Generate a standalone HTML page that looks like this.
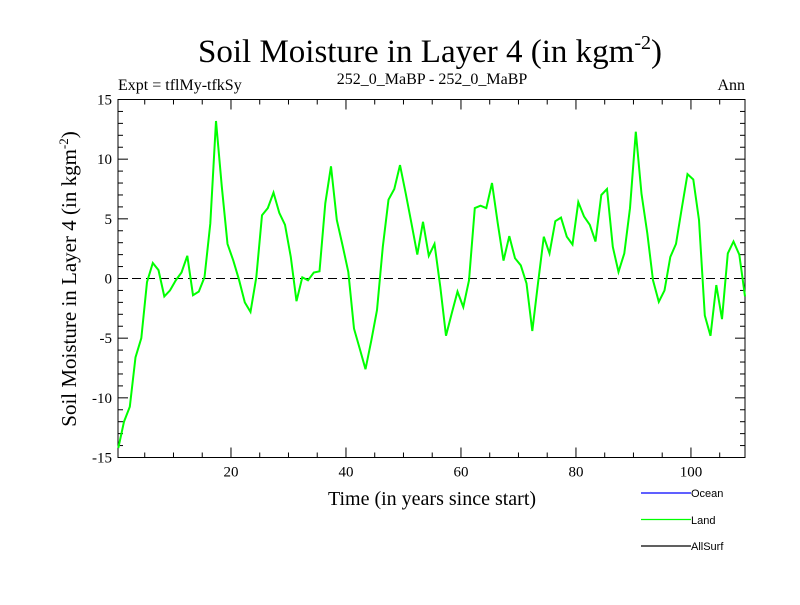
<!DOCTYPE html>
<html><head><meta charset="utf-8"><style>
body{margin:0;background:#fff}
svg text{font-family:"Liberation Serif",serif}
</style></head><body>
<svg id="chart" width="800" height="600" xmlns="http://www.w3.org/2000/svg">
<text x="430" y="62" font-size="33" text-anchor="middle">Soil Moisture in Layer 4 (in kgm<tspan dy="-13" font-size="20">-2</tspan><tspan dy="13">)</tspan></text>
<text x="118" y="90" font-size="16">Expt = tflMy-tfkSy</text>
<text x="432" y="84" font-size="16" text-anchor="middle">252_0_MaBP - 252_0_MaBP</text>
<text x="745" y="90" font-size="16" text-anchor="end">Ann</text>
<text transform="translate(76,279) rotate(-90)" font-size="21" text-anchor="middle">Soil Moisture in Layer 4 (in kgm<tspan dy="-8" font-size="13">-2</tspan><tspan dy="8">)</tspan></text>
<text x="432" y="505" font-size="20" text-anchor="middle">Time (in years since start)</text>
<g id="axes"></g>
<g id="series"></g>
<g font-family="Liberation Sans, sans-serif" font-size="11">
<line x1="641" y1="493" x2="691" y2="493" stroke="#0000ff" stroke-width="1.2"/>
<text x="691" y="497" style="font-family:'Liberation Sans',sans-serif">Ocean</text>
<line x1="641" y1="519.5" x2="691" y2="519.5" stroke="#00ff00" stroke-width="1.2"/>
<text x="691" y="524" style="font-family:'Liberation Sans',sans-serif">Land</text>
<line x1="641" y1="546" x2="691" y2="546" stroke="#000" stroke-width="1.2"/>
<text x="691" y="550" style="font-family:'Liberation Sans',sans-serif">AllSurf</text>
</g>
</svg>
<script>
const landValues=[-14.2,-12,-10.75,-6.6,-5,-0.3,1.3,0.7,-1.5,-1,-0.15,0.5,1.9,-1.4,-1.1,0.1,4.6,13.2,7.7,2.9,1.5,-0.1,-2,-2.8,0.1,5.3,5.9,7.2,5.5,4.5,1.8,-1.9,0.1,-0.15,0.5,0.6,6.3,9.4,4.9,2.8,0.55,-4.2,-5.9,-7.6,-5.2,-2.65,2.65,6.6,7.5,9.5,7.1,4.6,2,4.75,1.9,2.9,-0.7,-4.8,-2.9,-1.1,-2.4,-0.15,5.9,6.1,5.9,8,4.6,1.5,3.55,1.7,1.1,-0.4,-4.4,-0.4,3.5,2.1,4.8,5.1,3.5,2.85,6.4,5.2,4.5,3.1,7,7.5,2.65,0.55,2.1,5.9,12.3,7.1,3.8,-0.15,-1.95,-1,1.8,2.9,5.9,8.75,8.3,4.9,-3.1,-4.8,-0.55,-3.4,2.1,3.1,2,-1.5];
const xTicks=[20,40,60,80,100];
const yTicks=[-15,-10,-5,0,5,10,15];
const NS='http://www.w3.org/2000/svg';
const L=118,R=745,T=99.5,B=457.5,xMin=0.35,xMax=109.4,yMin=-15,yMax=15;
const xs=v=>L+(v-xMin)/(xMax-xMin)*(R-L);
const ys=v=>B-(v-yMin)/(yMax-yMin)*(B-T);
function mk(tag,attrs,parent){const e=document.createElementNS(NS,tag);for(const k in attrs)e.setAttribute(k,attrs[k]);parent.appendChild(e);return e;}
const ax=document.getElementById('axes');
const frame=mk('rect',{x:L,y:T,width:R-L,height:B-T,fill:'none',stroke:'#000','stroke-width':1},ax);


for(let v=5;v<xMax;v+=5){const major=v%20===0;const len=major?10:5;
 mk('line',{x1:xs(v),x2:xs(v),y1:B,y2:B-len,stroke:'#000'},ax);
 mk('line',{x1:xs(v),x2:xs(v),y1:T,y2:T+len,stroke:'#000'},ax);}
for(let v=-14;v<15;v++){const major=v%5===0;const len=major?10:5;
 mk('line',{x1:L,x2:L+len,y1:ys(v),y2:ys(v),stroke:'#000'},ax);
 mk('line',{x1:R,x2:R-len,y1:ys(v),y2:ys(v),stroke:'#000'},ax);}
xTicks.forEach(v=>{const t=mk('text',{x:xs(v),y:B+19,'font-size':15,'text-anchor':'middle'},ax);t.textContent=v;
 
 });
yTicks.forEach(v=>{const t=mk('text',{x:L-6,y:ys(v)+5,'font-size':15,'text-anchor':'end'},ax);t.textContent=v;
 
 });
const zl=mk('line',{x1:L,x2:R,y1:ys(0),y2:ys(0),stroke:'#000','stroke-dasharray':'9,5'},ax);


const pts=landValues.map((v,i)=>xs(i+0.4).toFixed(1)+','+ys(v).toFixed(1)).join(' ');
const pl=mk('polyline',{points:pts,fill:'none',stroke:'#00ff00','stroke-width':2},document.getElementById('series'));


</script>
</body></html>
